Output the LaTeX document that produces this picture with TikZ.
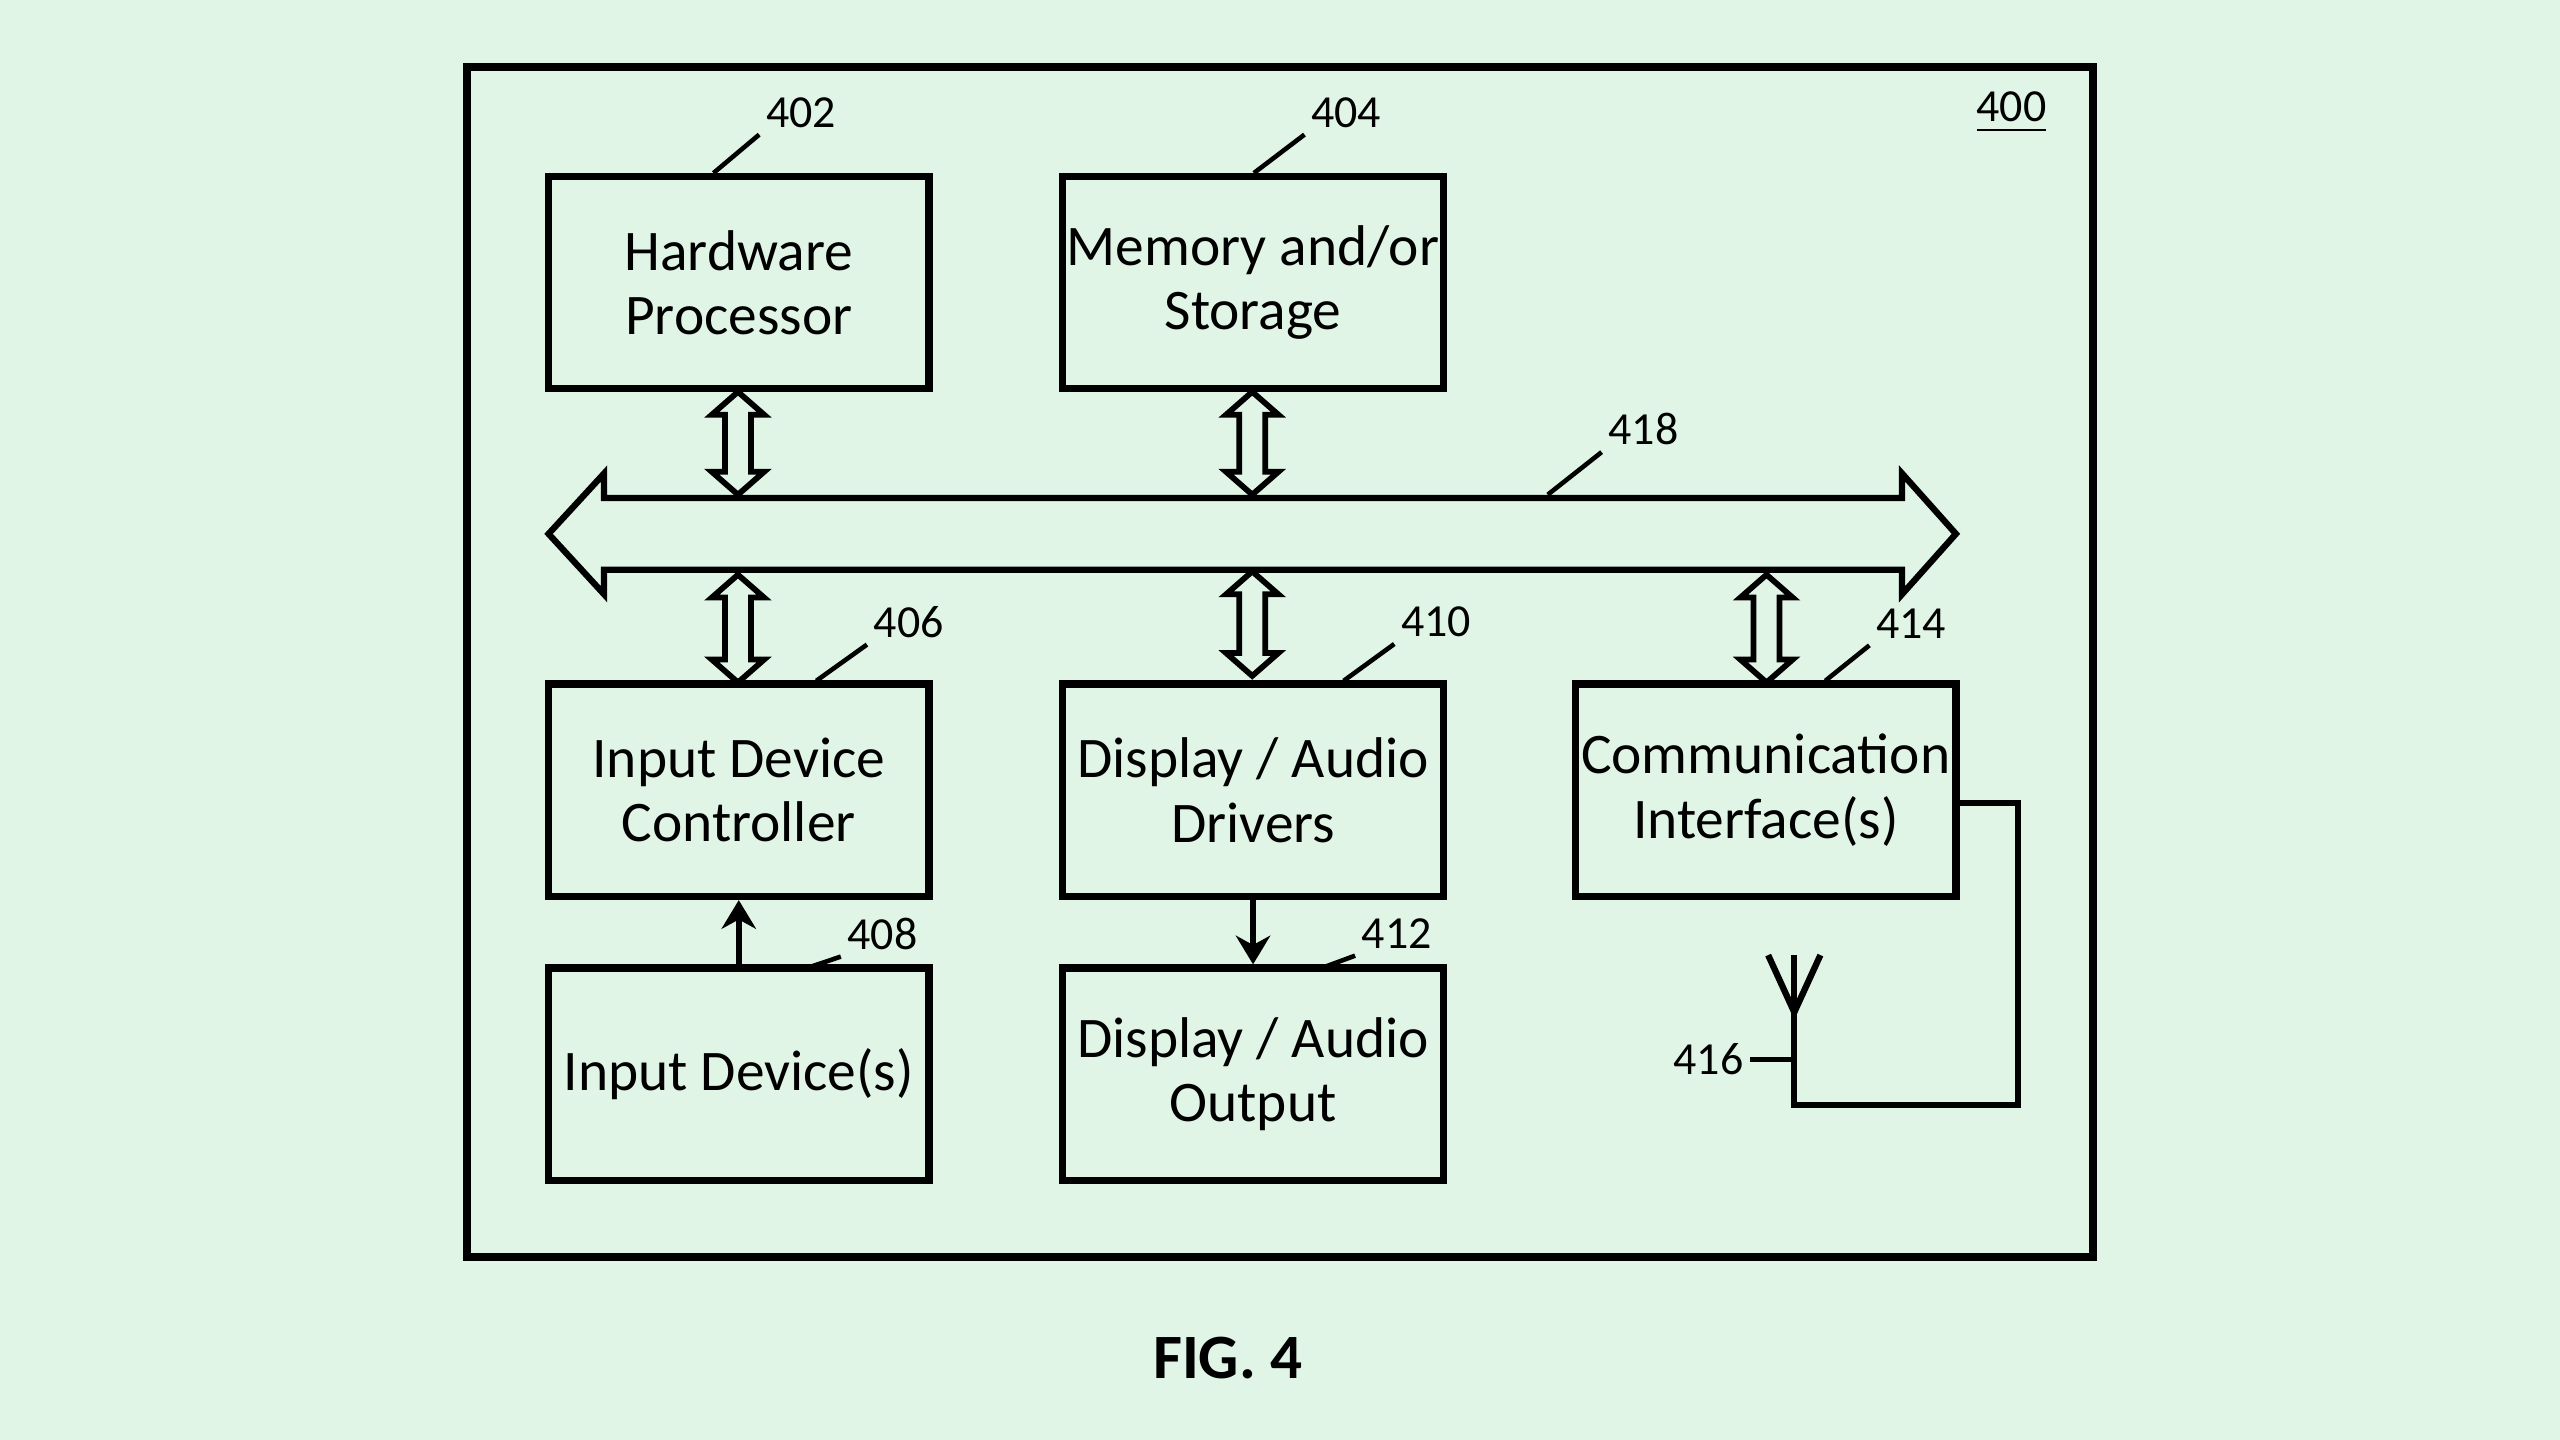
\documentclass[tikz,border=0pt]{standalone}
\usepackage{fontspec}
\setmainfont{Carlito}
\usetikzlibrary{arrows.meta}
\definecolor{bg}{HTML}{E0F5E6}
\begin{document}
\begin{tikzpicture}[x=0.01cm,y=-0.01cm,
  box/.style={draw,line width=1.3pt,minimum width=2.33cm,minimum height=1.30cm,align=center,font=\fontsize{10}{11.2}\selectfont,inner sep=0pt},
  lbl/.style={font=\fontsize{8}{9}\selectfont,inner sep=1pt},
  lead/.style={line width=0.8pt},
  conn/.style={line width=1.1pt}]
\fill[bg] (0,0) rectangle (1568,882);
\useasboundingbox (0,0) rectangle (1568,882);
\draw[line width=1.3pt] (286,41) rectangle (1282,770);
\node[lbl] at (1232,69) {\underline{400}};
\node[box] (hp) at (452.5,173) {Hardware\\Processor};
\node[box] (mem) at (767.5,173) {Memory and/or\\Storage};
\node[box] (idc) at (452.5,484) {Input Device\\Controller};
\node[box] (dad) at (767.5,484) {Display / Audio\\Drivers};
\node[box] (ci) at (1081.5,484) {Communication\\Interface(s)};
\node[box] (id) at (452.5,658) {Input Device(s)};
\node[box] (dao) at (767.5,658) {Display / Audio\\Output};
% bus
\draw[conn,line join=miter] (336,327) -- (370,290) -- (370,305) -- (1165,305) -- (1165,290) -- (1198,327) -- (1165,364) -- (1165,349) -- (370,349) -- (370,364) -- cycle;
\newcommand\vdarr[3]{\draw[line width=1pt] (#1,#2) -- (#1+16,#2+14) -- (#1+8,#2+14) -- (#1+8,#3-14) -- (#1+16,#3-14) -- (#1,#3) -- (#1-16,#3-14) -- (#1-8,#3-14) -- (#1-8,#2+14) -- (#1-16,#2+14) -- cycle;}
\vdarr{452}{240}{303}
\vdarr{767}{240}{303}
\vdarr{452}{352}{418}
\vdarr{767}{350}{414}
\vdarr{1082}{352}{418}
\draw[conn,-{Stealth[length=5pt,width=6pt]}] (id.north) -- (idc.south);
\draw[conn,-{Stealth[length=5pt,width=6pt]}] (dad.south) -- (dao.north);
% antenna
\coordinate (ant) at (1099,585);
\draw[conn] (ci.east |- 0,492) -- (1236,492) -- (1236,677) -- (1099,677) -- (ant);
\draw[conn] (1083,585) -- (1099,620) -- (1115,585);
\node[lbl,anchor=east] (l416) at (1072,649) {416};
\draw[lead] (l416.east) -- (1099,649);
% labels
\node[lbl,anchor=west] (l402) at (465,69) {402}; \draw[lead] (437,106) -- (l402.south west);
\node[lbl,anchor=west] (l404) at (799,69) {404}; \draw[lead] (768,106) -- (l404.south west);
\node[lbl,anchor=west] (l418) at (981,263) {418}; \draw[lead] (948,303) -- (l418.south west);
\node[lbl,anchor=west] (l406) at (531,381) {406}; \draw[lead] (500,417) -- (l406.south west);
\node[lbl,anchor=west] (l410) at (854,381) {410}; \draw[lead] (823,417) -- (l410.south west);
\node[lbl,anchor=west] (l414) at (1145,382) {414}; \draw[lead] (1118,417) -- (l414.south west);
\node[lbl,anchor=west] (l408) at (515,572) {408}; \draw[lead] (497,592) -- (l408.south west);
\node[lbl,anchor=west] (l412) at (830,572) {412}; \draw[lead] (812,592) -- (l412.south west);
\node[font=\fontsize{11}{12}\selectfont\bfseries] at (752,832) {FIG. 4};
\end{tikzpicture}
\end{document}
